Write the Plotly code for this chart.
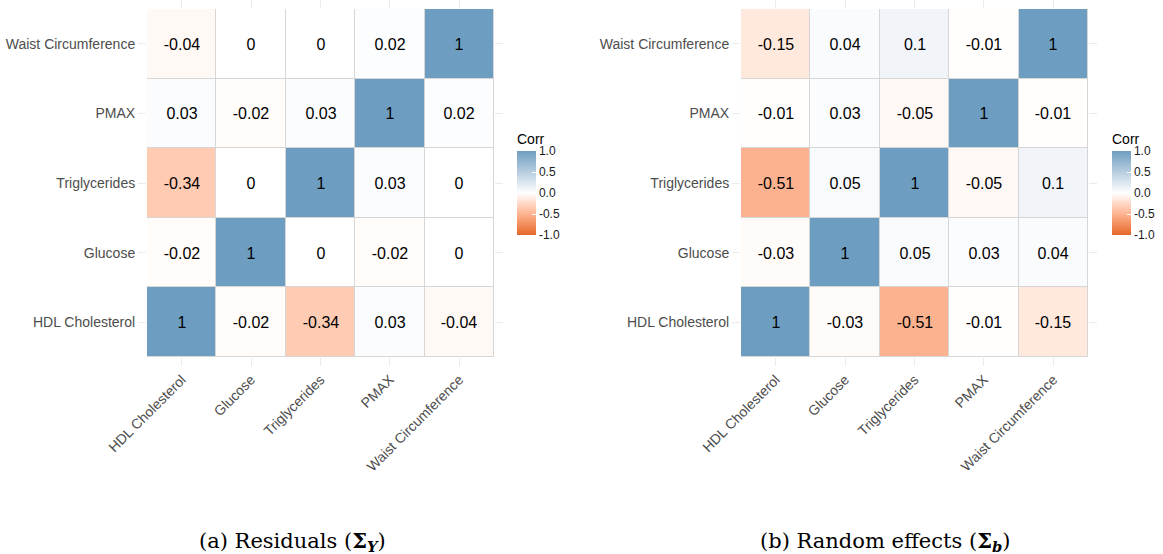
import plotly.graph_objects as go

# Variables in axis order (bottom-to-top on y, left-to-right on x)
variables = ["HDL Cholesterol", "Glucose", "Triglycerides", "PMAX", "Waist Circumference"]

# Correlation matrices, rows follow `variables`
corr_residuals = [
    [1.00, -0.02, -0.34, 0.03, -0.04],
    [-0.02, 1.00, 0.00, -0.02, 0.00],
    [-0.34, 0.00, 1.00, 0.03, 0.00],
    [0.03, -0.02, 0.03, 1.00, 0.02],
    [-0.04, 0.00, 0.00, 0.02, 1.00],
]
corr_random = [
    [1.00, -0.03, -0.51, -0.01, -0.15],
    [-0.03, 1.00, 0.05, 0.03, 0.04],
    [-0.51, 0.05, 1.00, -0.05, 0.10],
    [-0.01, 0.03, -0.05, 1.00, -0.01],
    [-0.15, 0.04, 0.10, -0.01, 1.00],
]

# Legend ticks
legend_ticks = [-1.0, -0.5, 0.0, 0.5, 1.0]
legend_labels = ["-1.0", "-0.5", "0.0", "0.5", "1.0"]

captions = [
    "(a) Residuals (<b>Σ</b><sub><b><i>Y</i></b></sub>)",
    "(b) Random effects (<b>Σ</b><sub><b><i>b</i></b></sub>)",
]

LOW, MID, HIGH = "#E46726", "#FFFFFF", "#6D9EC1"
SANS = "Liberation Sans, Arial, sans-serif"


# --- diverging gradient interpolated in CIE Lab space ---
def _hex_to_rgb(h):
    h = h.lstrip("#")
    return [int(h[i:i + 2], 16) / 255 for i in (0, 2, 4)]


def _lin(c):
    return c / 12.92 if c <= 0.04045 else ((c + 0.055) / 1.055) ** 2.4


def _gam(c):
    c = max(0.0, min(1.0, c))
    return 12.92 * c if c <= 0.0031308 else 1.055 * c ** (1 / 2.4) - 0.055


WHITE = (0.95047, 1.0, 1.08883)


def _rgb_to_lab(rgb):
    r, g, b = [_lin(c) for c in rgb]
    x = 0.4124 * r + 0.3576 * g + 0.1805 * b
    y = 0.2126 * r + 0.7152 * g + 0.0722 * b
    z = 0.0193 * r + 0.1192 * g + 0.9505 * b

    def f(t):
        return t ** (1 / 3) if t > 0.008856 else 7.787 * t + 16 / 116

    fx, fy, fz = f(x / WHITE[0]), f(y / WHITE[1]), f(z / WHITE[2])
    return (116 * fy - 16, 500 * (fx - fy), 200 * (fy - fz))


def _lab_to_hex(lab):
    L, a, b = lab
    fy = (L + 16) / 116
    fx = fy + a / 500
    fz = fy - b / 200

    def finv(t):
        return t ** 3 if t ** 3 > 0.008856 else (t - 16 / 116) / 7.787

    x, y, z = finv(fx) * WHITE[0], finv(fy) * WHITE[1], finv(fz) * WHITE[2]
    r = 3.2406 * x - 1.5372 * y - 0.4986 * z
    g = -0.9689 * x + 1.8758 * y + 0.0415 * z
    bb = 0.0557 * x - 0.2040 * y + 1.0570 * z
    return "#%02x%02x%02x" % tuple(round(_gam(c) * 255) for c in (r, g, bb))


def _mix(c1, c2, t):
    l1, l2 = _rgb_to_lab(_hex_to_rgb(c1)), _rgb_to_lab(_hex_to_rgb(c2))
    return _lab_to_hex([a + (b - a) * t for a, b in zip(l1, l2)])


steps = 10
colorscale = []
for i in range(steps + 1):
    t = i / steps
    colorscale.append([0.5 * t, _mix(LOW, MID, t)])
for i in range(1, steps + 1):
    t = i / steps
    colorscale.append([0.5 + 0.5 * t, _mix(MID, HIGH, t)])


def fmt(v):
    return f"{v:g}"


W, H = 1163, 554
fig = go.Figure()

x_domains = [[147 / W, 494 / W], [741 / W, 1088 / W]]
y_domain = [(H - 357) / H, (H - 9) / H]
cbar_x = [517 / W, 1112 / W]
caption_x = [292 / W, 885 / W]

for k, mat in enumerate([corr_residuals, corr_random]):
    sfx = "" if k == 0 else "2"
    fig.add_trace(go.Heatmap(
        z=mat,
        x=variables,
        y=variables,
        text=[[fmt(v) for v in row] for row in mat],
        texttemplate="%{text}",
        textfont=dict(size=16, color="black", family=SANS),
        coloraxis="coloraxis" + sfx,
        xgap=1, ygap=1,
        xaxis="x" + sfx, yaxis="y" + sfx,
        hoverinfo="skip",
    ))

axis_common = dict(
    showgrid=False, zeroline=False, showline=False, automargin=False,
    ticks="outside", ticklen=8, tickwidth=1, tickcolor="#ebebeb",
    mirror="ticks",
    tickfont=dict(size=14, color="#4d4d4d", family=SANS),
    range=[-0.5, 4.5],
)

cbar_common = dict(
    thickness=19, len=105, lenmode="pixels", ypad=0, xpad=0,
    y=(H - 130) / H, yanchor="top", xanchor="left",
    outlinewidth=0,
    tickvals=legend_ticks, ticktext=legend_labels,
    ticks="inside", ticklen=4, tickcolor="white",
    tickfont=dict(size=12, color="#1a1a1a", family=SANS),
    title=dict(text="Corr", side="top", font=dict(size=14, color="black", family=SANS)),
)

fig.update_layout(
    width=W, height=H,
    margin=dict(l=0, r=0, t=0, b=0, autoexpand=False),
    paper_bgcolor="white",
    plot_bgcolor="#d6d6d6",
    xaxis=dict(domain=x_domains[0], anchor="y", tickangle=-45, **axis_common),
    yaxis=dict(domain=y_domain, anchor="x", **axis_common),
    xaxis2=dict(domain=x_domains[1], anchor="y2", tickangle=-45, **axis_common),
    yaxis2=dict(domain=y_domain, anchor="x2", **axis_common),
    coloraxis=dict(colorscale=colorscale, cmin=-1, cmax=1,
                   colorbar=dict(x=cbar_x[0], **cbar_common)),
    coloraxis2=dict(colorscale=colorscale, cmin=-1, cmax=1,
                    colorbar=dict(x=cbar_x[1], **cbar_common)),
    annotations=[
        dict(text=captions[i], x=caption_x[i], y=(H - 541) / H,
             xref="paper", yref="paper", xanchor="center", yanchor="middle",
             showarrow=False,
             font=dict(size=21, color="black", family="DejaVu Serif, Liberation Serif, serif"))
        for i in range(2)
    ],
)

fig.write_html("out.html")
